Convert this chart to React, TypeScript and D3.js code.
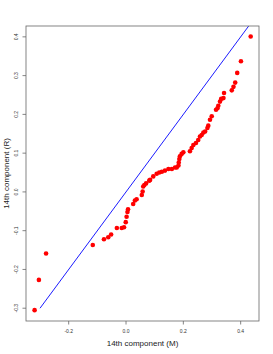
import React from "react";
import * as d3 from "d3";

// quantiles: M (x) vs R (y)
const xM = [
  -0.319, -0.304, -0.279, -0.116, -0.077, -0.062, -0.052, -0.032, -0.015, -0.007,
  -0.001, 0.002, 0.005, 0.007, 0.025, 0.031, 0.037, 0.055, 0.058, 0.06,
  0.064, 0.07, 0.081, 0.084, 0.095, 0.107, 0.116, 0.125, 0.136, 0.148,
  0.16, 0.171, 0.177, 0.183, 0.184, 0.186, 0.188, 0.194, 0.2, 0.223,
  0.229, 0.235, 0.244, 0.252, 0.258, 0.264, 0.27, 0.276, 0.284, 0.287,
  0.293, 0.299, 0.314, 0.319, 0.322, 0.328, 0.332, 0.34, 0.342, 0.369,
  0.375, 0.381, 0.388, 0.401, 0.435,
];
const yR = [
  -0.305, -0.227, -0.159, -0.137, -0.122, -0.117, -0.11, -0.093, -0.093, -0.091,
  -0.078, -0.064, -0.052, -0.045, -0.031, -0.022, -0.019, -0.008, 0.001, 0.014,
  0.018, 0.022, 0.029, 0.031, 0.04, 0.047, 0.05, 0.052, 0.055, 0.059,
  0.059, 0.063, 0.063, 0.068, 0.076, 0.085, 0.092, 0.098, 0.102, 0.105,
  0.113, 0.121, 0.126, 0.134, 0.143, 0.147, 0.153, 0.156, 0.165, 0.171,
  0.186, 0.195, 0.212, 0.216, 0.222, 0.233, 0.24, 0.242, 0.255, 0.262,
  0.271, 0.282, 0.307, 0.337, 0.401,
];
const xTicks = [-0.2, 0.0, 0.2, 0.4];
const yTicks = [-0.3, -0.2, -0.1, 0.0, 0.1, 0.2, 0.3, 0.4];
const refLine = [-0.3, 0.6];

const W = 273;
const H = 354;
const box = { left: 26, right: 259, top: 26, bottom: 321 };

const App = () => {
  const x = d3.scaleLinear().domain([-0.349, 0.464]).range([box.left, box.right]);
  const y = d3.scaleLinear().domain([-0.333, 0.428]).range([box.bottom, box.top]);
  const line = d3
    .line<number>()
    .x((d) => x(d))
    .y((d) => y(d));
  const font = "Liberation Sans, Arial, sans-serif";

  return (
    <svg
      width={W}
      height={H}
      style={{ position: "absolute", left: 0, top: 0, background: "#fff" }}
    >
      <defs>
        <clipPath id="plotclip">
          <rect x={box.left} y={box.top} width={box.right - box.left} height={box.bottom - box.top} />
        </clipPath>
      </defs>
      <path d={line(refLine) || ""} stroke="#0000ff" strokeWidth={0.9} fill="none" clipPath="url(#plotclip)" />
      {xM.map((v, i) => (
        <circle key={i} cx={x(v)} cy={y(yR[i])} r={2.3} fill="#ff0000" />
      ))}
      <rect
        x={box.left}
        y={box.top}
        width={box.right - box.left}
        height={box.bottom - box.top}
        fill="none"
        stroke="#666"
        strokeWidth={0.8}
      />
      {xTicks.map((t) => (
        <g key={t}>
          <line x1={x(t)} x2={x(t)} y1={box.bottom} y2={box.bottom + 3.5} stroke="#666" strokeWidth={0.8} />
          <text x={x(t)} y={box.bottom + 12} fontSize={5} fontFamily={font} textAnchor="middle" fill="#333">
            {t.toFixed(1)}
          </text>
        </g>
      ))}
      {yTicks.map((t) => (
        <g key={t}>
          <line x1={box.left - 3.5} x2={box.left} y1={y(t)} y2={y(t)} stroke="#666" strokeWidth={0.8} />
          <text
            transform={`translate(${box.left - 8},${y(t)}) rotate(-90)`}
            fontSize={5}
            fontFamily={font}
            textAnchor="middle"
            fill="#333"
          >
            {t.toFixed(1)}
          </text>
        </g>
      ))}
      <text x={(box.left + box.right) / 2} y={346} fontSize={8} fontFamily={font} textAnchor="middle" fill="#222">
        14th component (M)
      </text>
      <text
        transform={`translate(9,${(box.top + box.bottom) / 2}) rotate(-90)`}
        fontSize={8}
        fontFamily={font}
        textAnchor="middle"
        fill="#222"
      >
        14th component (R)
      </text>
    </svg>
  );
};

export default App;
